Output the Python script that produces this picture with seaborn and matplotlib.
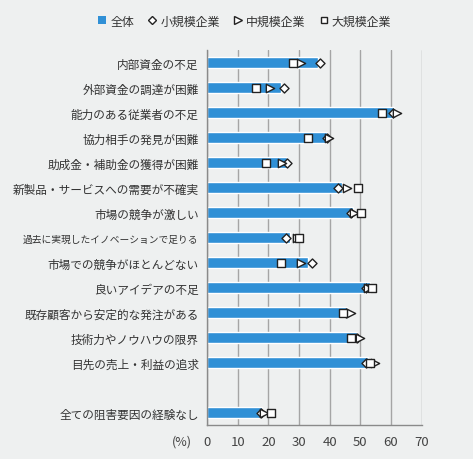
import pandas as pd
import matplotlib.pyplot as plt
import seaborn as sns
from matplotlib.lines import Line2D

# --- データ (単位: %) ---
categories = [
    '内部資金の不足',
    '外部資金の調達が困難',
    '能力のある従業者の不足',
    '協力相手の発見が困難',
    '助成金・補助金の獲得が困難',
    '新製品・サービスへの需要が不確実',
    '市場の競争が激しい',
    '過去に実現したイノベーションで足りる',
    '市場での競争がほとんどない',
    '良いアイデアの不足',
    '既存顧客から安定的な発注がある',
    '技術力やノウハウの限界',
    '目先の売上・利益の追求',
    ' ',
    '全ての阻害要因の経験なし',
]
total = [36.2, 24.1, 61.1, 39.0, 26.1, 43.9, 47.5, 27.0, 33.0, 53.1, 45.5, 48.8, 52.6, None, 18.1]
small = [37.0, 25.0, 60.7, 39.0, 26.1, 42.8, 46.8, 25.9, 34.1, 51.7, 45.2, 49.0, 52.0, None, 17.5]
medium = [30.8, 20.7, 62.0, 39.8, 24.6, 45.8, 48.0, 29.5, 30.8, 52.5, 46.9, 49.9, 54.7, None, 18.5]
large = [28.1, 16.1, 57.1, 33.0, 19.1, 49.1, 50.1, 29.9, 24.0, 53.9, 44.2, 47.1, 53.1, None, 21.0]

BG = '#eef0f0'
BAR = '#3090d6'
FONT = ['Noto Sans CJK JP', 'DejaVu Sans']

def main():
    sns.set_style('white')
    plt.rcParams['font.family'] = FONT

    df = pd.DataFrame({'項目': categories, '全体': total, '小規模企業': small,
                       '中規模企業': medium, '大規模企業': large}).dropna()

    fig = plt.figure(figsize=(4.73, 4.60), dpi=100, facecolor=BG)
    ax = fig.add_axes([0.4376, 0.0739, 0.8915 - 0.4376, 0.889 - 0.0739])
    ax.set_facecolor(BG)

    sns.barplot(data=df, x='全体', y='項目', order=categories, color=BAR,
                saturation=1, width=0.46, ax=ax, zorder=2)

    # 企業規模別のマーカー
    for col, mk, sz in [('小規模企業', 'D', 4.6), ('中規模企業', '>', 6.0), ('大規模企業', 's', 5.4)]:
        sns.stripplot(data=df, x=col, y='項目', order=categories, jitter=False,
                      marker=mk, size=sz, color='white', edgecolor='#222222',
                      linewidth=1.0, ax=ax, zorder=4)

    ax.set_xlim(0, 70)
    ax.set_ylim(14.5, -0.5)
    ax.set_xticks(range(0, 71, 10))
    ax.set_xlabel('')
    ax.set_ylabel('')
    ax.grid(axis='x', color='#a5a5a5', linewidth=1.0, zorder=0)
    ax.set_axisbelow(True)

    for s in ['top', 'right']:
        ax.spines[s].set_visible(False)
    for s in ['left', 'bottom']:
        ax.spines[s].set_color('#8a8a8a')
        ax.spines[s].set_linewidth(1.0)

    ax.tick_params(axis='y', which='major', length=0, pad=6, labelsize=8.4, labelcolor='#333333')
    # 長いラベルは小さめ
    for t in ax.get_yticklabels():
        if len(t.get_text()) > 16:
            t.set_fontsize(7.0)
    ax.set_yticks([i + 0.5 for i in range(-1, len(categories))], minor=True)
    ax.tick_params(axis='y', which='minor', length=4, color='#8a8a8a', direction='out')
    ax.tick_params(axis='x', length=3, color='#8a8a8a', pad=4, labelsize=9.5, labelcolor='#444444')

    ax.annotate('(%)', xy=(-0.07, -0.042), xycoords='axes fraction', ha='right', va='center',
                fontsize=9, color='#444444')

    handles = [
        Line2D([], [], marker='s', linestyle='none', markersize=5.5, color=BAR, markeredgewidth=0),
        Line2D([], [], marker='D', linestyle='none', markersize=4.4, markerfacecolor='white',
               markeredgecolor='#222222'),
        Line2D([], [], marker='>', linestyle='none', markersize=5.6, markerfacecolor='white',
               markeredgecolor='#222222'),
        Line2D([], [], marker='s', linestyle='none', markersize=5.0, markerfacecolor='white',
               markeredgecolor='#222222'),
    ]
    fig.legend(handles, ['全体', '小規模企業', '中規模企業', '大規模企業'], loc='center',
               bbox_to_anchor=(0.517, 0.952), ncol=4, frameon=False, fontsize=8.6,
               handlelength=0.7, handletextpad=0.3, columnspacing=1.2,
               labelcolor='#333333')

    fig.savefig('out.png', dpi=100, facecolor=BG)

if __name__ == '__main__':
    main()
